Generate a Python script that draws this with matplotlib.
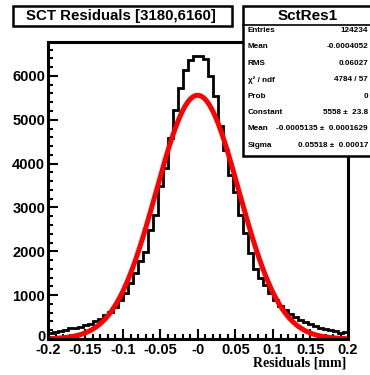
import numpy as np
import matplotlib
matplotlib.use("Agg")
import matplotlib.pyplot as plt
import matplotlib.transforms as mtransforms
from matplotlib.patches import Rectangle

# histogram of SCT residuals, 60 bins in [-0.2, 0.2] mm
x_min, x_max = -0.2, 0.2
counts = [145, 165, 190, 215, 240, 260, 280, 310, 350, 400,
          450, 540, 620, 740, 880, 1060, 1280, 1510, 1770, 1990,
          2490, 2830, 3480, 3900, 4580, 5230, 5730, 6130, 6370, 6450,
          6450, 6385, 6005, 5530, 4860, 4300, 3740, 3350, 2830, 2410,
          1960, 1590, 1385, 1235, 1040, 880, 760, 660, 560, 500,
          440, 390, 350, 300, 260, 220, 200, 190, 140, 150]

# gaussian fit parameters (from the stats box)
fit_const = 5558
fit_mean = -0.0005135
fit_sigma = 0.05518

title = "SCT Residuals [3180,6160]"
stats_name = "SctRes1"
stats_labels = ["Entries", "Mean", "RMS", "\u03c7\u00b2 / ndf", "Prob",
                "Constant", "Mean", "Sigma"]
stats_values = ["124234", "-0.0004052", "0.06027", "4784 / 57", "0",
                "5558 \u00b1  23.8", "-0.0005135 \u00b1  0.0001629",
                "0.05518 \u00b1  0.00017"]

x_ticks = [-0.2, -0.15, -0.1, -0.05, 0, 0.05, 0.1, 0.15, 0.2]
x_ticklabels = ["-0.2", "-0.15", "-0.1", "-0.05", "-0", "0.05", "0.1", "0.15", "0.2"]
y_ticks = [0, 1000, 2000, 3000, 4000, 5000, 6000]

W, H = 370, 375
fig = plt.figure(figsize=(W / 100, H / 100), dpi=100)


def fx(px):
    return px / W


def fy(py):
    return 1 - py / H


ax = fig.add_axes([fx(48), fy(339), fx(348) - fx(48), fy(42) - fy(339)])

edges = np.linspace(x_min, x_max, len(counts) + 1)
ax.stairs(counts, edges, color="black", lw=2.0, baseline=0)

xs = np.linspace(x_min, x_max, 400)
ax.plot(xs, fit_const * np.exp(-0.5 * ((xs - fit_mean) / fit_sigma) ** 2),
        color="#ff0000", lw=3.6, solid_capstyle="butt")

ax.set_xlim(x_min, x_max)
ax.set_ylim(0, max(counts) * 1.05)

ax.set_xticks(x_ticks)
ax.set_xticklabels(x_ticklabels)
ax.set_xticks(np.arange(-0.2, 0.2001, 0.01), minor=True)
ax.set_yticks(y_ticks)
ax.set_yticks(np.arange(0, 6800, 200), minor=True)

ax.tick_params(which="both", direction="in", top=False, right=False,
               width=1.5, color="black")
ax.tick_params(which="major", length=7)
ax.tick_params(which="minor", length=3.5)
ax.tick_params(axis="x", which="major", pad=3)
ax.tick_params(axis="y", which="major", pad=2)
for lab in ax.get_xticklabels() + ax.get_yticklabels():
    lab.set_fontfamily("Liberation Sans")
    lab.set_fontweight("bold")
    lab.set_fontsize(10.5)

# the "0" label sits right on top of "-0.2", nudge it up a little
zero_lab = ax.get_yticklabels()[0]
zero_lab.set_transform(zero_lab.get_transform() +
                       mtransforms.ScaledTranslation(0, 2.5 / 72, fig.dpi_scale_trans))

for sp in ax.spines.values():
    sp.set_linewidth(2.2)

fig.text(fx(346), fy(363), "Residuals [mm]", ha="right", va="center",
         family="Liberation Serif", weight="bold", fontsize=10)

# title box
fig.add_artist(Rectangle((fx(13), fy(26)), fx(232) - fx(13), fy(6) - fy(26),
                         transform=fig.transFigure, facecolor="white",
                         edgecolor="black", lw=1.8))
fig.text(fx(121), fy(16), title, ha="center", va="center",
         family="Liberation Sans", weight="bold", fontsize=10.8)

# stats box
fig.add_artist(Rectangle((fx(243), fy(156)), fx(375) - fx(243), fy(6) - fy(156),
                         transform=fig.transFigure, facecolor="white",
                         edgecolor="black", lw=1.8, zorder=5))
fig.add_artist(plt.Line2D([fx(243), fx(375)], [fy(25), fy(25)],
                          transform=fig.transFigure, color="black", lw=1.2,
                          zorder=6))
fig.text(fx(308), fy(16), stats_name, ha="center", va="center",
         family="Liberation Sans", weight="bold", fontsize=11, zorder=7)
for i, (lab, val) in enumerate(zip(stats_labels, stats_values)):
    yy = fy(30.5 + i * 16.4)
    fig.text(fx(248), yy, lab, ha="left", va="center",
             family="Liberation Sans", weight="bold", fontsize=5.9, zorder=7)
    fig.text(fx(368), yy, val, ha="right", va="center",
             family="Liberation Sans", weight="bold", fontsize=5.9, zorder=7)

fig.savefig("out.png", dpi=100)
